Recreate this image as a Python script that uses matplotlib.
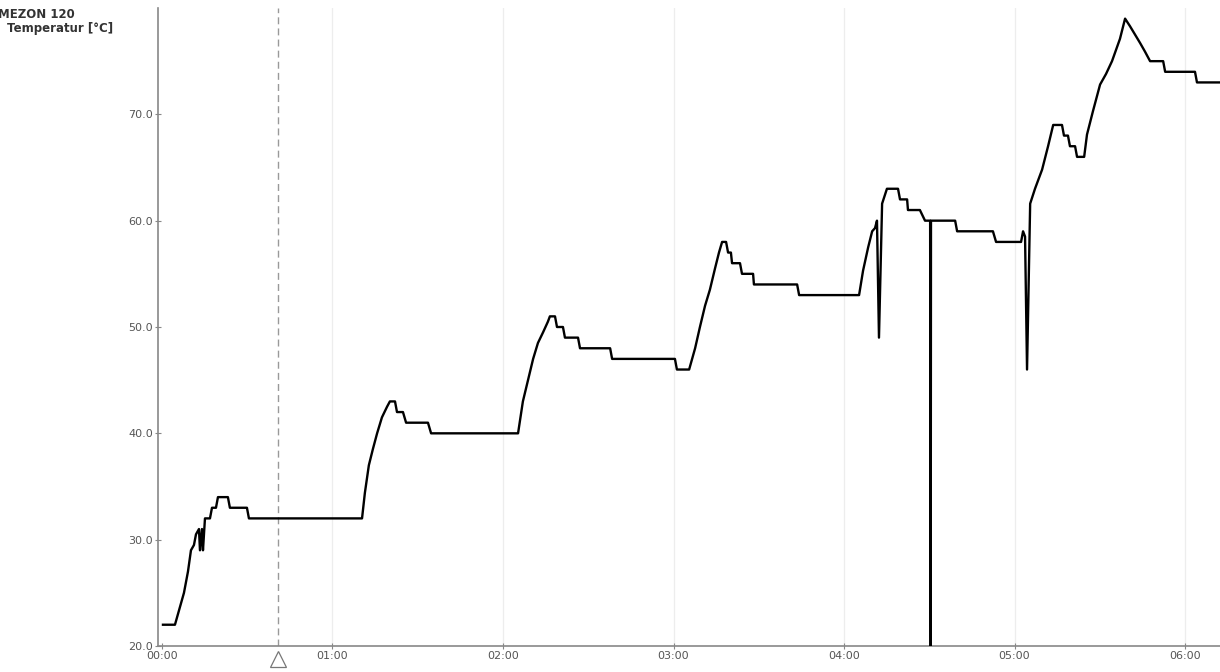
import matplotlib
matplotlib.use("Agg")
import matplotlib.pyplot as plt
import numpy as np

# time in minutes since start, temperature in degC
minutes = [0.35, 4.57, 5.63, 7.74, 9.15, 10.2, 11.26, 11.97, 13.02, 13.37, 14.08, 14.43,
           15.13, 16.89, 17.6, 19.0, 19.7, 23.2, 23.9, 29.9, 30.6, 69.7,
           70.4, 71.4, 72.8, 74.2, 75.7, 77.4, 79.2, 80.2, 82.0, 82.7, 84.8, 85.9, 93.6,
           94.7, 125.3,
           127.0, 128.8, 130.6, 132.3, 134.1, 135.8, 136.5, 138.3, 139.0, 141.1, 141.8,
           146.4, 147.1, 157.7, 158.4, 180.5, 181.2, 185.5,
           187.6, 189.3, 191.1, 192.8, 194.6, 196.0, 197.1, 198.5, 199.2, 200.2, 200.6,
           203.4, 204.1, 208.0, 208.3, 223.5, 224.2, 245.3,
           246.7, 248.5, 249.9, 250.9, 251.6, 252.3, 253.4, 255.1, 259.0, 259.7, 262.2,
           262.5, 266.7, 267.8, 268.5, 270.3, 270.5, 270.6, 279.1, 279.8, 292.4, 293.5,
           302.3, 303.0, 303.7, 304.4, 305.5, 307.2, 309.7, 311.8, 313.6, 316.7, 317.4,
           318.8, 319.5, 321.3, 322.0, 324.5, 325.5, 327.6, 330.1, 332.2, 334.3, 337.1,
           338.9, 340.6, 342.4, 344.2, 345.9, 347.7, 352.3, 353.0, 363.5, 364.2, 372.3]
temperature = [22, 22, 23, 25, 27, 29, 29.5, 30.5, 31, 29, 31, 29,
               32, 32, 33, 33, 34, 34, 33, 33, 32, 32,
               32, 34.4, 37, 38.5, 40, 41.5, 42.5, 43, 43, 42, 42, 41, 41,
               40, 40,
               43, 45, 47, 48.5, 49.5, 50.5, 51, 51, 50, 50, 49,
               49, 48, 48, 47, 47, 46, 46,
               48, 50, 52, 53.5, 55.5, 57, 58, 58, 57, 57, 56,
               56, 55, 55, 54, 54, 53, 53,
               55.3, 57.5, 59, 59.3, 60, 49, 61.6, 63, 63, 62, 62,
               61, 61, 60.4, 60, 60, 20, 60, 60, 59, 59, 58,
               58, 59, 58.5, 46, 61.6, 63, 64.8, 67, 69, 69, 68,
               68, 67, 67, 66, 66, 68.1, 70.3, 72.8, 73.8, 75, 77.1,
               79, 78.3, 77.5, 76.7, 75.9, 75, 75, 74, 74, 73, 73]

hour_ticks = [0, 60, 120, 180, 240, 300, 360]
hour_labels = ["00:00", "01:00", "02:00", "03:00", "04:00", "05:00", "06:00"]
temp_ticks = [20, 30, 40, 50, 60, 70]
marker_minute = 40.8

fig = plt.figure(figsize=(12.2, 6.72), dpi=100)
ax = fig.add_axes([0.1295, 0.0387, 0.8705, 0.9494])

for t in hour_ticks[1:]:
    ax.axvline(t, color="#ededed", linewidth=0.9, zorder=0)

ax.axvline(marker_minute, color="#999999", linewidth=1.0, linestyle=(0, (5, 3)), zorder=1)
ax.plot([marker_minute], [-0.021], transform=ax.get_xaxis_transform(), marker="^",
        markersize=11, markerfacecolor="white", markeredgecolor="#777777",
        markeredgewidth=0.9, clip_on=False)

ax.plot(minutes, temperature, color="black", linewidth=1.7, zorder=3)

ax.set_xlim(-1.4, 372.3)
ax.set_ylim(20, 80)
ax.set_xticks(hour_ticks)
ax.set_xticklabels(hour_labels)
ax.set_yticks(temp_ticks)
ax.set_yticklabels(["%.1f" % v for v in temp_ticks])

for side in ["top", "right"]:
    ax.spines[side].set_visible(False)
for side in ["left", "bottom"]:
    ax.spines[side].set_color("#888888")
    ax.spines[side].set_linewidth(1.2)
ax.tick_params(direction="inout", length=5, width=0.8, colors="#888888",
               labelsize=8, labelcolor="#555555", pad=1)

fig.text(-0.002, 0.979, "MEZON 120", fontsize=8.5, fontweight="bold", color="#333333",
         ha="left", va="center")
fig.text(0.006, 0.957, "Temperatur [°C]", fontsize=8.5, fontweight="bold", color="#333333",
         ha="left", va="center")

plt.savefig("out.png", dpi=100)
